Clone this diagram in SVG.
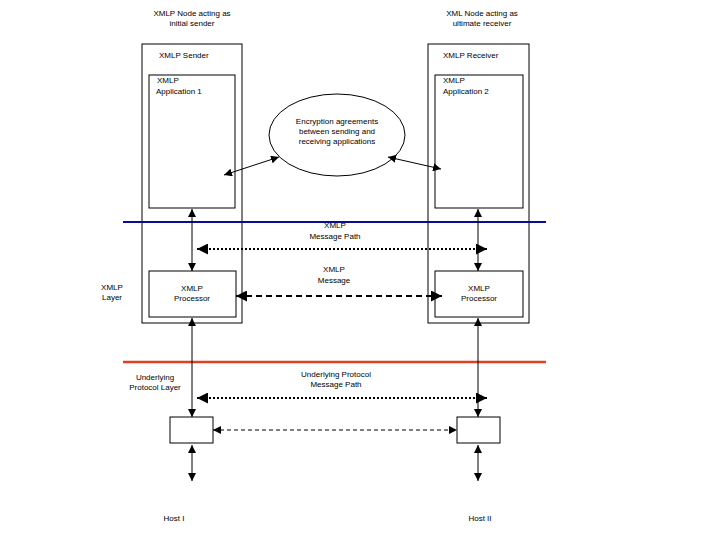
<svg xmlns="http://www.w3.org/2000/svg" width="720" height="540" viewBox="0 0 720 540">
<defs>
<marker id="ah" viewBox="0 0 10 10" refX="10" refY="5" markerWidth="8" markerHeight="8" markerUnits="userSpaceOnUse" orient="auto-start-reverse"><path d="M0,0 L10,5 L0,10 Z" fill="#000"/></marker>
<marker id="ahb" viewBox="0 0 10 10" refX="10" refY="5" markerWidth="11" markerHeight="11" markerUnits="userSpaceOnUse" orient="auto-start-reverse"><path d="M0,0 L10,5 L0,10 Z" fill="#000"/></marker>
<style>
text{font-family:"Liberation Sans",Arial,sans-serif;font-size:8px;fill:#000}
.c{text-anchor:middle}
.box{fill:#fff;stroke:#000;stroke-width:1}
.ln{stroke:#000;stroke-width:1;fill:none}
.dot{stroke:#000;stroke-width:2;stroke-dasharray:2 2;fill:none}
.dash{stroke:#000;stroke-width:2;stroke-dasharray:6 4;fill:none}
.dash2{stroke:#000;stroke-width:1;stroke-dasharray:4 3;fill:none}
</style>
</defs>
<rect width="720" height="540" fill="#fff"/>
<g id="sender">
<rect class="box" x="142" y="44" width="100" height="279"/>
<text class="c" x="192" y="16">XMLP Node acting as</text>
<text class="c" x="192" y="26">initial sender</text>
<text x="159" y="58">XMLP Sender</text>
</g>
<g id="app1">
<rect class="box" x="149" y="75" width="86" height="133"/>
<text x="157" y="83">XMLP</text>
<text x="156" y="94">Application 1</text>
</g>
<g id="proc1">
<rect class="box" x="149" y="271" width="87" height="46"/>
<text class="c" x="192" y="291">XMLP</text>
<text class="c" x="192" y="301">Processor</text>
</g>
<g id="receiver">
<rect class="box" x="428" y="44" width="101" height="279"/>
<text class="c" x="482" y="16">XML Node acting as</text>
<text class="c" x="482" y="26">ultimate receiver</text>
<text x="443" y="58">XMLP Receiver</text>
</g>
<g id="app2">
<rect class="box" x="435" y="75" width="88" height="133"/>
<text x="443" y="83">XMLP</text>
<text x="443" y="94">Application 2</text>
</g>
<g id="proc2">
<rect class="box" x="435" y="271" width="88" height="46"/>
<text class="c" x="479" y="291">XMLP</text>
<text class="c" x="479" y="301">Processor</text>
</g>
<g id="encryption">
<ellipse class="box" cx="337" cy="135" rx="68" ry="41"/>
<text class="c" x="337" y="124">Encryption agreements</text>
<text class="c" x="337" y="134">between sending and</text>
<text class="c" x="337" y="144">receiving applications</text>
</g>
<g id="host1">
<rect class="box" x="170" y="417" width="43" height="26"/>
<text class="c" x="174" y="521">Host I</text>
</g>
<g id="host2">
<rect class="box" x="457" y="417" width="43" height="26"/>
<text class="c" x="480" y="521">Host II</text>
</g>
<g id="layers">
<line x1="123" y1="222" x2="546" y2="222" stroke="#0a0a9a" stroke-width="2"/>
<line x1="123" y1="362" x2="546" y2="362" stroke="#e2401e" stroke-width="2.5"/>
<text class="c" x="112" y="290">XMLP</text>
<text class="c" x="112" y="300">Layer</text>
<text class="c" x="155" y="380">Underlying</text>
<text class="c" x="155" y="390">Protocol Layer</text>
<text class="c" x="335" y="228">XMLP</text>
<text class="c" x="335" y="239">Message Path</text>
<text class="c" x="334" y="272">XMLP</text>
<text class="c" x="334" y="283">Message</text>
<text class="c" x="336" y="377">Underlying Protocol</text>
<text class="c" x="336" y="387">Message Path</text>
</g>
<g id="connectors">
<line class="ln" x1="224" y1="175" x2="279" y2="157" marker-start="url(#ah)" marker-end="url(#ah)"/>
<line class="ln" x1="388" y1="157" x2="441" y2="169" marker-start="url(#ah)" marker-end="url(#ah)"/>
<line class="ln" x1="192" y1="209" x2="192" y2="271" marker-start="url(#ah)" marker-end="url(#ah)"/>
<line class="ln" x1="478" y1="209" x2="478" y2="271" marker-start="url(#ah)" marker-end="url(#ah)"/>
<line class="dot" x1="197" y1="249" x2="487" y2="249" marker-start="url(#ahb)" marker-end="url(#ahb)"/>
<line class="dash" x1="236" y1="296" x2="442" y2="296" marker-start="url(#ahb)" marker-end="url(#ahb)"/>
<line class="ln" x1="192" y1="318" x2="192" y2="417" marker-start="url(#ah)" marker-end="url(#ah)"/>
<line class="ln" x1="478" y1="318" x2="478" y2="417" marker-start="url(#ah)" marker-end="url(#ah)"/>
<line class="dot" x1="197" y1="398" x2="487" y2="398" marker-start="url(#ahb)" marker-end="url(#ahb)"/>
<line class="dash2" x1="213" y1="430" x2="457" y2="430" marker-start="url(#ah)" marker-end="url(#ah)"/>
<line class="ln" x1="192" y1="445" x2="192" y2="481" marker-start="url(#ah)" marker-end="url(#ah)"/>
<line class="ln" x1="478" y1="445" x2="478" y2="481" marker-start="url(#ah)" marker-end="url(#ah)"/>
</g>
</svg>
